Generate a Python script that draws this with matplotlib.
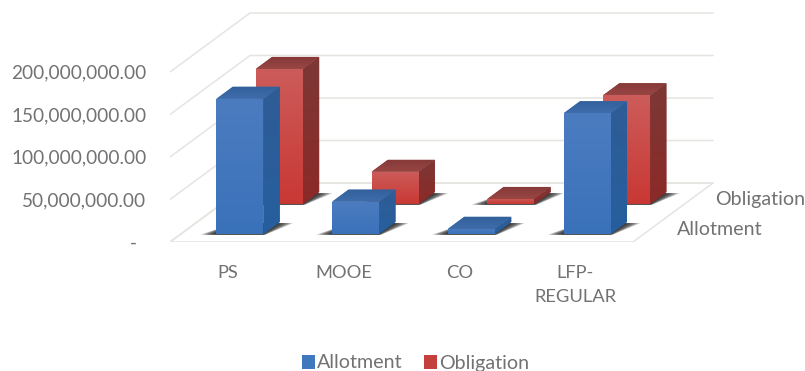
import matplotlib
matplotlib.use('Agg')
import matplotlib.pyplot as plt
import numpy as np
from matplotlib.colors import LinearSegmentedColormap
from matplotlib.patches import Patch, Polygon
from matplotlib.transforms import ScaledTranslation

plt.rcParams['font.family'] = ['Lato', 'DejaVu Sans']

categories = ['PS', 'MOOE', 'CO', 'LFP-\nREGULAR']
allotment = [159e6, 38e6, 6e6, 142e6]
obligation = [159e6, 38e6, 6e6, 128e6]
series_names = ['Allotment', 'Obligation']
y_ticks = [0, 50e6, 100e6, 150e6, 200e6]
y_labels = ['-  ', '50,000,000.00', '100,000,000.00', '150,000,000.00', '200,000,000.00']

TEXT = '#717274'
GRID = '#e6e4e0'
SIZE = 13.7
NAME_SIZE = 14.1

# oblique depth: how far one full unit of depth moves a point, in data units
DEPTH_X = 80 / 115.75
DEPTH_Y = 59 / 42.5 * 50e6
BAR_W = 0.406


def project(x, depth, value):
    return x + depth * DEPTH_X, value + depth * DEPTH_Y


def shaded(ax, verts, top, bottom, z):
    # polygon filled with a vertical gradient, on a flat copy for clean edges
    verts = np.array(verts)
    ax.add_patch(Polygon(verts, facecolor=bottom, edgecolor='none', zorder=z - 0.05))
    cmap = LinearSegmentedColormap.from_list('face', [bottom, top])
    im = ax.imshow(np.linspace(0, 1, 64).reshape(-1, 1), cmap=cmap, origin='lower', aspect='auto',
                   extent=[verts[:, 0].min(), verts[:, 0].max(), verts[:, 1].min(), verts[:, 1].max()],
                   zorder=z, interpolation='bilinear')
    im.set_clip_path(Polygon(verts, transform=ax.transData))


def shadow(ax, x0, x1, d0, d1):
    # soft dark footprint on the floor, built up from thin layers
    for grow in np.linspace(0.13, 0.01, 10):
        pts = [project(x0 - grow, d0 - 0.012, 0), project(x1 + grow * 0.2, d0 - 0.012, 0),
               project(x1 + grow, d1 - 0.02, 0), project(x0 + grow * 0.2, d1 - 0.02, 0)]
        ax.add_patch(Polygon(pts, facecolor='#262626', edgecolor='none', alpha=0.2, zorder=2))


def bar(ax, x, d0, d1, value, colors, z):
    x0, x1 = x - BAR_W / 2, x + BAR_W / 2
    shadow(ax, x0, x1, d0, d1)
    front = [project(x0, d0, 0), project(x1, d0, 0), project(x1, d0, value), project(x0, d0, value)]
    side = [project(x1, d0, 0), project(x1, d1, 0), project(x1, d1, value), project(x1, d0, value)]
    top = [project(x0, d0, value), project(x1, d0, value), project(x1, d1, value), project(x0, d1, value)]
    shaded(ax, side, colors['side_top'], colors['side_bottom'], z)
    shaded(ax, top, colors['top_back'], colors['top_front'], z + 0.1)
    shaded(ax, front, colors['front_top'], colors['front_bottom'], z + 0.2)


blue = dict(front_top='#4c7cc0', front_bottom='#3a72ba', side_top='#2f5c96', side_bottom='#265f9e',
            top_back='#32609b', top_front='#3f6dab')
red = dict(front_top='#cc5c5a', front_bottom='#c93834', side_top='#7c3836', side_bottom='#8c2a28',
           top_back='#873a38', top_front='#984644')

fig = plt.figure(figsize=(8.05, 3.71), dpi=100)
# the axes starts at the front left floor corner, so ticks sit on the front plane
ax = fig.add_axes([170 / 805, 1 - 242 / 371, 635 / 805, 242 / 371])

# walls and floor
for v in y_ticks:
    pts = [project(0, 0, v), project(0, 1, v), project(4, 1, v)]
    ax.plot(*zip(*pts), color=GRID, lw=1.1, zorder=1)
floor = [project(0, 0, 0), project(4, 0, 0), project(4, 1, 0), project(0, 1, 0), project(0, 0, 0)]
ax.plot(*zip(*floor), color=GRID, lw=1.1, zorder=1)

# back row first so the front row overlaps it
for i, v in enumerate(obligation):
    bar(ax, i + 0.5, 0.644, 0.847, v, red, 3 + i)
for i, v in enumerate(allotment):
    bar(ax, i + 0.51, 0.136, 0.34, v, blue, 8 + i)

ax.set_xlim(0, 635 / 115.75)
ax.set_ylim(0, 242 / 170 * 200e6)
ax.set_xticks(np.arange(len(categories)) + 0.5)
ax.set_xticklabels(categories, linespacing=1.6)
ax.set_yticks(y_ticks)
ax.set_yticklabels(y_labels)
ax.tick_params(axis='x', length=0, pad=16.5, labelsize=13.2, labelcolor=TEXT)
ax.tick_params(axis='y', length=0, pad=17, labelsize=SIZE, labelcolor=TEXT)
nudge = ScaledTranslation(0, -1 / 100, fig.dpi_scale_trans)
for lab in ax.get_yticklabels():
    lab.set_verticalalignment('center')
    lab.set_transform(lab.get_transform() + nudge)
for s in ax.spines.values():
    s.set_visible(False)
ax.patch.set_alpha(0)

# depth axis labels
ax.annotate(series_names[0], project(4, 0.24, 0), xytext=(18, -1.5), textcoords='offset points',
            va='center', ha='left', fontsize=NAME_SIZE, color=TEXT)
ax.annotate(series_names[1], project(4, 0.745, 0), xytext=(16.5, -0.7), textcoords='offset points',
            va='center', ha='left', fontsize=NAME_SIZE, color=TEXT)

handles = [Patch(facecolor='#3f78bd', label=series_names[0]), Patch(facecolor='#c5403d', label=series_names[1])]
fig.legend(handles=handles, loc='center', bbox_to_anchor=(415.5 / 805, 1 - 363 / 371), ncol=2, frameon=False,
           fontsize=NAME_SIZE, labelcolor=TEXT, handlelength=0.7, handleheight=0.7, handletextpad=0.1,
           columnspacing=1.05, borderpad=0, borderaxespad=0)

fig.savefig('out.png', dpi=100)
